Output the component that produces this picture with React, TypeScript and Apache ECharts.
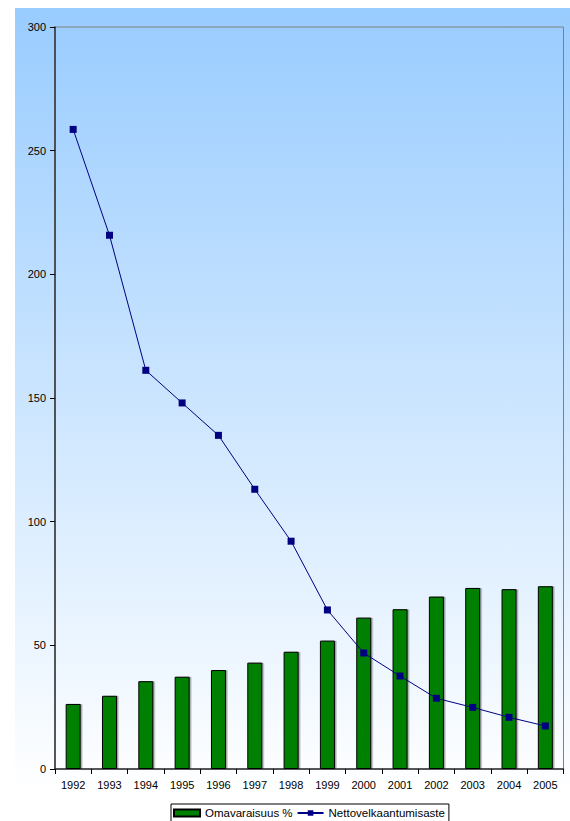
import React, { useEffect, useRef } from "react";
import * as echarts from "echarts";

const years = ["1992", "1993", "1994", "1995", "1996", "1997", "1998", "1999", "2000", "2001", "2002", "2003", "2004", "2005"];
const omavaraisuus = [26.3, 29.6, 35.5, 37.3, 40.0, 43.0, 47.4, 51.9, 61.2, 64.6, 69.7, 73.2, 72.7, 73.9];
const nettovelkaantumisaste = [258.6, 215.8, 161.2, 148.0, 134.9, 113.1, 92.1, 64.3, 46.9, 37.6, 28.6, 24.9, 20.9, 17.4];
const yMin = 0;
const yMax = 300;
const yInterval = 50;
const seriesNames = ["Omavaraisuus %", "Nettovelkaantumisaste"];

const FONT = "'Liberation Sans', Arial, sans-serif";

export default function App() {
  const ref = useRef<HTMLDivElement>(null);
  useEffect(() => {
    if (!ref.current) return;
    const chart = echarts.init(ref.current, null, { renderer: "svg" });
    chart.setOption({
      animation: false,
      textStyle: { fontFamily: FONT },
      graphic: {
        elements: [
          {
            type: "rect",
            z: -100,
            silent: true,
            shape: { x: 15, y: 8, width: 560, height: 785 },
            style: {
              fill: new echarts.graphic.LinearGradient(0, 0, 0, 1, [
                { offset: 0, color: "#99CCFF" },
                { offset: 1, color: "#FFFFFF" },
              ]),
            },
          },
        ],
      },
      grid: {
        left: 55,
        right: 6.5,
        top: 27,
        bottom: 52,
        show: true,
        borderColor: "#808080",
        borderWidth: 1,
        backgroundColor: "transparent",
      },
      legend: {
        left: 171,
        top: 804,
        data: [
          { name: seriesNames[0], icon: "rect" },
          { name: seriesNames[1] },
        ],
        backgroundColor: "#FFFFFF",
        borderColor: "#000000",
        borderWidth: 1,
        borderRadius: 0,
        padding: [3, 4, 3, 2],
        itemGap: 4,
        itemWidth: 26,
        itemHeight: 7,
        textStyle: { fontFamily: FONT, fontSize: 11.5, color: "#000" },
      },
      xAxis: {
        type: "category",
        data: years,
        boundaryGap: true,
        axisLine: { lineStyle: { color: "#333", width: 1.5 } },
        axisTick: { show: true, length: 5, lineStyle: { color: "#000" }, alignWithLabel: false },
        axisLabel: { color: "#000", fontSize: 11, fontFamily: FONT, margin: 10, interval: 0 },
        splitLine: { show: false },
      },
      yAxis: {
        type: "value",
        min: yMin,
        max: yMax,
        interval: yInterval,
        axisLine: { show: true, lineStyle: { color: "#333", width: 1.5 } },
        axisTick: { show: true, length: 5, lineStyle: { color: "#000" } },
        axisLabel: { color: "#000", fontSize: 11, fontFamily: FONT, margin: 9 },
        splitLine: { show: false },
      },
      series: [
        {
          name: seriesNames[0],
          type: "bar",
          data: omavaraisuus,
          barWidth: 15,
          itemStyle: {
            color: "#008000",
            borderColor: "#000000",
            borderWidth: 1,
            shadowColor: "rgba(0,0,0,0.35)",
            shadowOffsetX: 1.5,
            shadowOffsetY: 0,
            shadowBlur: 0,
          },
        },
        {
          name: seriesNames[1],
          type: "line",
          data: nettovelkaantumisaste,
          symbol: "rect",
          symbolSize: 7,
          lineStyle: { color: "#000080", width: 1 },
          itemStyle: { color: "#000080" },
          z: 5,
        },
      ],
    });
    return () => chart.dispose();
  }, []);
  return (
    <div
      ref={ref}
      style={{ position: "absolute", left: 0, top: 0, width: 570, height: 821 }}
    />
  );
}
